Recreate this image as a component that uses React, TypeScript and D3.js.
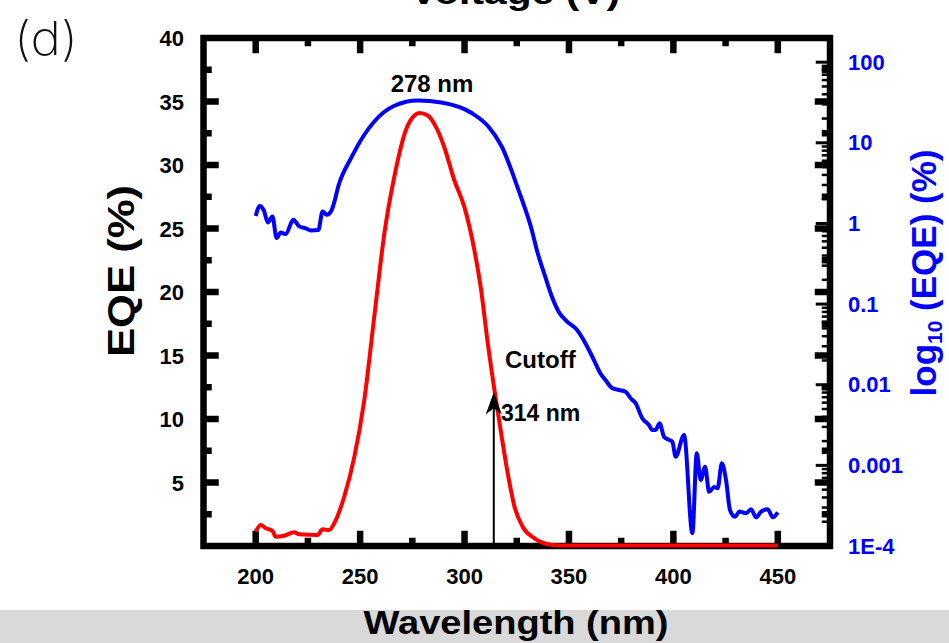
import React from "react";
import * as d3 from "d3";

const redWavelength = [200, 202.4, 204.8, 208, 209.6, 213.6, 218.4, 220.8, 229.6, 232, 235.2, 237.6, 242.4, 247.2, 252, 256.8, 261.6, 266.4, 272, 276, 278.4, 282.4, 286.3, 290.3, 295.1, 299.9, 304.7, 307.9, 311.1, 314.3, 317.5, 320.7, 323.9, 327.9, 333.5, 336.7, 342, 350, 400, 450];
const redEQE = [1.13, 1.65, 1.39, 1.2, 0.73, 0.81, 1.08, 0.92, 0.87, 1.31, 1.26, 1.79, 3.9, 7.0, 11.5, 18.1, 24.6, 29.1, 32.8, 33.9, 34.1, 33.9, 33.0, 31.4, 28.8, 26.7, 23.3, 20.2, 16.0, 12.3, 8.9, 5.7, 3.1, 1.5, 0.6, 0.3, 0.08, 0.03, 0.03, 0.03];

const blueWavelength = [200, 202, 203.9, 205.8, 208, 210, 212, 214.4, 218, 220.8, 224, 226.4, 230, 232, 234, 236.4, 240, 245.7, 252, 256.8, 266.4, 277.6, 288.9, 303.4, 311.4, 317.8, 325.8, 332.2, 334.6, 338.6, 341.8, 345, 349, 353.8, 357.8, 361.9, 365, 367.4, 370.7, 373.9, 377.1, 379.5, 381.9, 385.1, 388.3, 389.9, 391.5, 393.4, 395.5, 397.9, 399.5, 401.1, 405.1, 409.1, 411.2, 413.1, 415.2, 417.1, 419.6, 421.2, 423.2, 425.2, 427.1, 429.5, 431.6, 434.8, 437.2, 439.6, 442, 445.2, 447.6, 450];
const blueEQE = [1.24, 1.65, 1.45, 1.03, 1.22, 0.66, 0.77, 0.74, 1.11, 0.92, 0.87, 0.82, 0.83, 1.41, 1.28, 1.47, 3.16, 6.5, 12.6, 18.4, 28.8, 33.5, 31.6, 23.4, 15.9, 9.0, 2.61, 0.83, 0.47, 0.22, 0.124, 0.081, 0.061, 0.048, 0.033, 0.0204, 0.0139, 0.0115, 0.0091, 0.0086, 0.0082, 0.0068, 0.0059, 0.00384, 0.00317, 0.00275, 0.00275, 0.00333, 0.00227, 0.00207, 0.00197, 0.00128, 0.00238, 0.000144, 0.00141, 0.00066, 0.00096, 0.00047, 0.00054, 0.00052, 0.00106, 0.00066, 0.00028, 0.000231, 0.000267, 0.000255, 0.000285, 0.000227, 0.000267, 0.000285, 0.000227, 0.000262];

const xMajorTicks = [200, 250, 300, 350, 400, 450];
const xMinorTicks = [225, 275, 325, 375, 425];
const yMajorTicks = [5, 10, 15, 20, 25, 30, 35];
const yMinorTicks = [2.5, 7.5, 12.5, 17.5, 22.5, 27.5, 32.5, 37.5];
const logDecades = [1e-4, 1e-3, 1e-2, 1e-1, 1, 10, 100];
const logLabels = ["1E-4", "0.001", "0.01", "0.1", "1", "10", "100"];

const cutoffWavelength = 314;
const cutoffEQE = 12.1;

const FONT = "'Liberation Sans', Arial, Helvetica, sans-serif";

export default function App() {
  const L = 203.5, R = 830, T = 38, B = 546;
  const x = d3.scaleLinear().domain([175, 475]).range([L, R]);
  const y = d3.scaleLinear().domain([0, 40]).range([B, T]);
  const yLog = d3.scaleLog().domain([1e-4, 10 ** 2.3]).range([B, T]);

  const redLine = d3
    .line<number>()
    .x((_, i) => x(redWavelength[i]))
    .y((d) => y(d))
    .curve(d3.curveMonotoneX)(redEQE) as string;

  const blueLine = d3
    .line<number>()
    .x((_, i) => x(blueWavelength[i]))
    .y((d) => yLog(d))
    .curve(d3.curveMonotoneX)(blueEQE) as string;

  const logMinor: number[] = [];
  logDecades.forEach((d) => {
    for (let k = 2; k <= 9; k++) {
      const v = d * k;
      if (v <= 10 ** 2.3) logMinor.push(v);
    }
  });

  const TW = 6.5;
  const ax = x(cutoffWavelength);
  const tipY = y(cutoffEQE);

  return (
    <svg
      width={949}
      height={643}
      style={{ position: "absolute", left: 0, top: 0, background: "#fff" }}
      fontFamily={FONT}
    >
      <rect x={0} y={0} width={949} height={643} fill="#fff" />
      <rect x={0} y={610} width={949} height={33} fill="#d9d9d9" />

      {/* title, cut off at the top edge as in the source figure */}
      <text x={515} y={4} textAnchor="middle" fontSize={34} fontWeight="bold" textLength={210} lengthAdjust="spacingAndGlyphs">
        Voltage (V)
      </text>
      <text x={14} y={55} fontSize={47} fontWeight={200} fontFamily="Inter, 'DejaVu Sans', sans-serif" fill="#111" textLength={64} lengthAdjust="spacingAndGlyphs">
        (d)
      </text>

      {/* blue curve */}
      <path d={blueLine} fill="none" stroke="#0000ff" strokeWidth={4} strokeLinejoin="round" />

      {/* frame */}
      <rect x={L} y={T} width={R - L} height={B - T} fill="none" stroke="#000" strokeWidth={TW} strokeLinecap="square" />

      {/* bottom & top ticks */}
      {xMajorTicks.map((t) => (
        <g key={"xm" + t}>
          <line x1={x(t)} x2={x(t)} y1={B} y2={B - 12 - TW / 2} stroke="#000" strokeWidth={TW} />
          <line x1={x(t)} x2={x(t)} y1={T} y2={T + 12 + TW / 2} stroke="#000" strokeWidth={TW} />
          <text x={x(t)} y={584} textAnchor="middle" fontSize={22} fontWeight="bold">
            {t}
          </text>
        </g>
      ))}
      {xMinorTicks.map((t) => (
        <g key={"xn" + t}>
          <line x1={x(t)} x2={x(t)} y1={B} y2={B - 5 - TW / 2} stroke="#000" strokeWidth={TW} />
          <line x1={x(t)} x2={x(t)} y1={T} y2={T + 5 + TW / 2} stroke="#000" strokeWidth={TW} />
        </g>
      ))}

      {/* left & right linear ticks */}
      {yMajorTicks.map((t) => (
        <g key={"ym" + t}>
          <line x1={L} x2={L + 12 + TW / 2} y1={y(t)} y2={y(t)} stroke="#000" strokeWidth={TW} />
          <line x1={R} x2={R - 12 - TW / 2} y1={y(t)} y2={y(t)} stroke="#000" strokeWidth={TW} />
          <text x={184} y={y(t) + 8} textAnchor="end" fontSize={22} fontWeight="bold">
            {t}
          </text>
        </g>
      ))}
      <text x={184} y={y(40) + 8} textAnchor="end" fontSize={22} fontWeight="bold">
        40
      </text>
      {yMinorTicks.map((t) => (
        <g key={"yn" + t}>
          <line x1={L} x2={L + 5 + TW / 2} y1={y(t)} y2={y(t)} stroke="#000" strokeWidth={TW} />
          <line x1={R} x2={R - 5 - TW / 2} y1={y(t)} y2={y(t)} stroke="#000" strokeWidth={TW} />
        </g>
      ))}

      {/* right log ticks */}
      {logDecades.map((t, i) => (
        <g key={"ld" + t}>
          <line x1={R} x2={R - 11 - TW / 2} y1={yLog(t)} y2={yLog(t)} stroke="#000" strokeWidth={3} />
          <text x={848} y={yLog(t) + 7.5} fontSize={22} fontWeight="bold" fill="#0000ff">
            {logLabels[i]}
          </text>
        </g>
      ))}
      {logMinor.map((t) => (
        <line key={"lm" + t} x1={R} x2={R - 5 - TW / 2} y1={yLog(t)} y2={yLog(t)} stroke="#000" strokeWidth={2.5} />
      ))}

      {/* red curve on top */}
      <path d={redLine} fill="none" stroke="#ff0000" strokeWidth={4} strokeLinejoin="round" />

      {/* arrow */}
      <line x1={ax} x2={ax} y1={B} y2={tipY + 10} stroke="#000" strokeWidth={2} />
      <path
        d={`M${ax},${tipY} L${ax + 8},${tipY + 22} L${ax},${tipY + 16} L${ax - 8},${tipY + 22} Z`}
        fill="#000"
      />

      {/* annotations */}
      <text x={432} y={92} textAnchor="middle" fontSize={24} fontWeight="bold">
        278 nm
      </text>
      <text x={505} y={368} fontSize={24} fontWeight="bold">
        Cutoff
      </text>
      <text x={501} y={421} fontSize={23} fontWeight="bold">
        314 nm
      </text>

      {/* axis titles */}
      <text x={516} y={634} textAnchor="middle" fontSize={34} fontWeight="bold" textLength={305} lengthAdjust="spacingAndGlyphs">
        Wavelength (nm)
      </text>
      <text
        transform="translate(134,271) rotate(-90)"
        textAnchor="middle"
        fontSize={37}
        fontWeight="bold"
        textLength={172}
        lengthAdjust="spacingAndGlyphs"
      >
        EQE (%)
      </text>
      <text
        transform="translate(936,273) rotate(-90)"
        textAnchor="middle"
        fontSize={35}
        fontWeight="bold"
        fill="#0000ff"
      >
        log
        <tspan fontSize={21} dy={6}>10</tspan>
        <tspan dy={-6}> (EQE) (%)</tspan>
      </text>
    </svg>
  );
}
